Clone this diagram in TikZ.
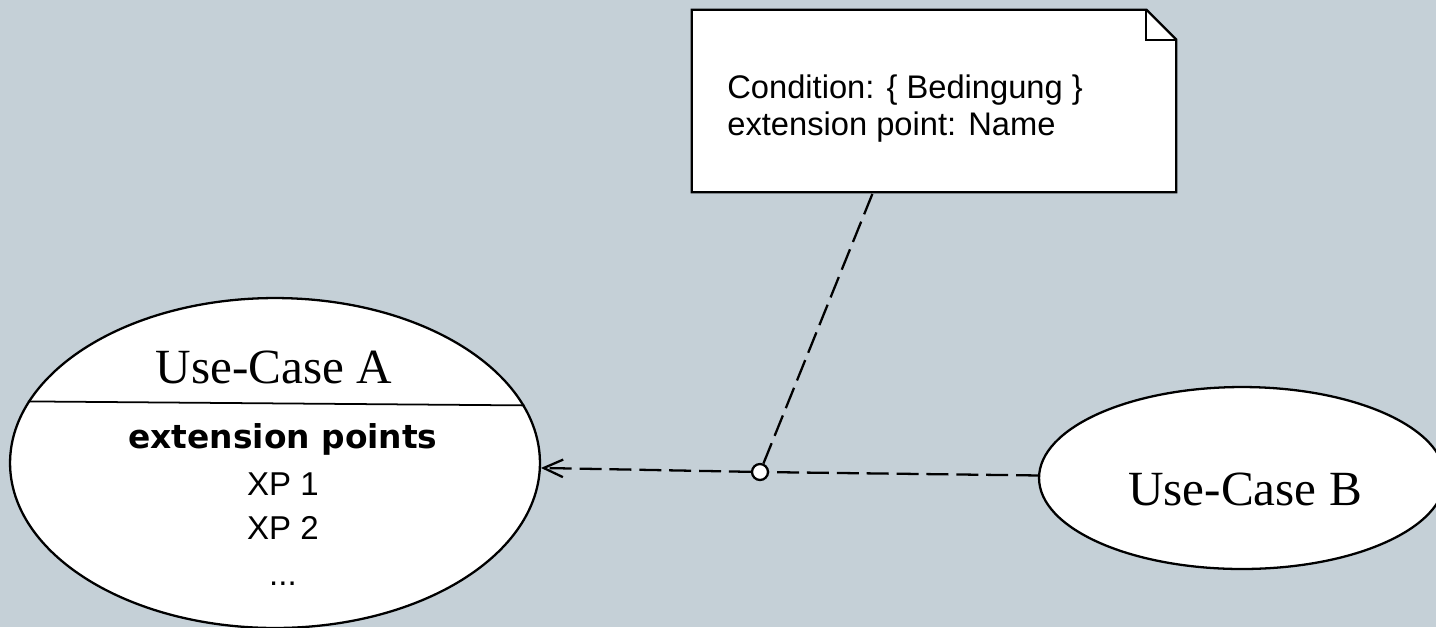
\documentclass[tikz,border=0pt]{standalone}
\usepackage{fontspec}
\setmainfont{Liberation Serif}
\newfontfamily\notefont{Liberation Sans}
\newfontfamily\xpfont{DejaVu Sans}
\usetikzlibrary{arrows.meta, shapes.geometric, positioning}
\definecolor{bgblue}{RGB}{197,208,215}

\begin{document}
\begin{tikzpicture}[x=0.02cm, y=-0.02cm,
    usecase/.style = {draw, ellipse, fill=white, line width=1.3pt, inner sep=0pt},
    ucname/.style = {font=\fontsize{28}{32}\selectfont, anchor=base, inner sep=0pt},
    notebox/.style = {minimum width=9.68cm, minimum height=3.64cm, inner sep=0pt},
    notetext/.style = {font=\notefont\fontsize{18.6}{21}\selectfont, align=left, inner sep=0pt},
    xptext/.style = {font=\notefont\fontsize{18.8}{22}\selectfont, anchor=base, inner sep=0pt},
    dep/.style = {line width=1.3pt, dash pattern=on 12.5pt off 4.5pt},
    xpoint/.style = {draw, circle, fill=white, line width=1.3pt, minimum size=0.32cm, inner sep=0pt}]
    \fill[bgblue] (0,0) rectangle (1436,627);
    \useasboundingbox (0,0) rectangle (1436,627);

    % use cases
    \node[usecase, minimum width=10.6cm, minimum height=6.6cm] (A) at (275,463) {};
    \draw[line width=1pt] (A.166.4) -- (A.13.6);
    \node[ucname] (nameA) at (274,383) {Use-Case A};
    \node[xptext, font=\xpfont\bfseries\fontsize{18.7}{22}\selectfont] (pts) at (283,448) {extension points};
    \node[xptext] (xp1) at (283,495) {XP 1};
    \node[xptext] (xp2) at (283,539) {XP 2};
    \node[xptext] (more) at (283,585) {...};

    \node[usecase, minimum width=8.12cm, minimum height=3.64cm] (B) at (1242,478) {};
    \node[ucname] (nameB) at (1245,505) {Use-Case B};

    % note
    \node[notebox] (note) at (934,101) {};
    \filldraw[fill=white, line width=1.3pt] (note.south west) |- ([xshift=-0.6cm]note.north east)
        -- ([yshift=-0.6cm]note.north east) |- cycle;
    \draw[line width=1pt] ([xshift=-0.6cm]note.north east) |- ([yshift=-0.6cm]note.north east);
    \node[notetext, anchor=base west] (cond) at (727,135) {Condition: \{ Bedingung \}\\extension point: Name};
    \coordinate (notefoot) at ([xshift=-1.22cm]note.south);

    % extend
    \node[xpoint] (xp) at (760,472) {};
    \draw[dep] (B) -- (xp);
    \draw[dep, -{Straight Barb[length=11pt, width=10pt]}] (xp) -- (A);
    \draw[dep] (xp) -- (notefoot);
\end{tikzpicture}
\end{document}
